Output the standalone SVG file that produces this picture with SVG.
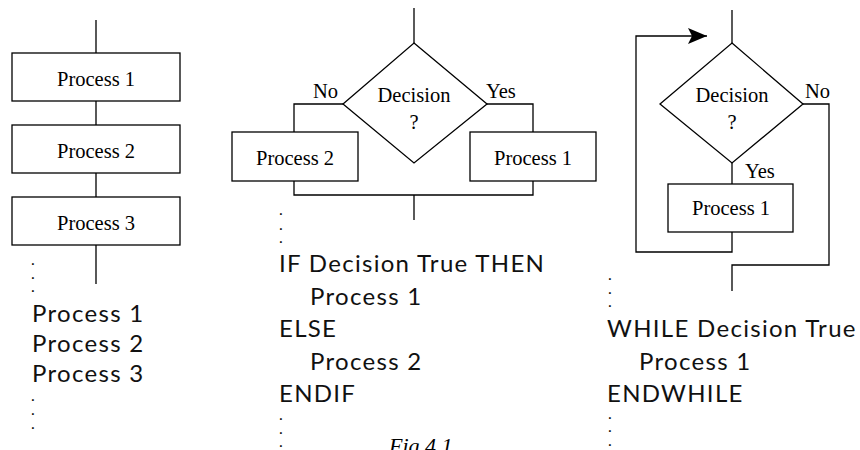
<svg xmlns="http://www.w3.org/2000/svg" width="860" height="450" viewBox="0 0 860 450">
  <style>
    .box { fill: #fff; stroke: #000; stroke-width: 1.3; }
    .wire { fill: none; stroke: #000; stroke-width: 1.3; }
    .lbl { font-family: "Liberation Serif", "Times New Roman", serif; font-size: 20.5px; fill: #000; }
    .mid { text-anchor: middle; }
    .code { font-family: "Lato", "Noto Sans", sans-serif; font-size: 24px; letter-spacing: 1.3px; fill: #111; }
    .dot { font-family: "Lato", "Noto Sans", sans-serif; font-size: 16px; fill: #111; }
    .cap { font-family: "Liberation Serif", "Times New Roman", serif; font-size: 22px; font-style: italic; fill: #000; }
  </style>
  <defs>
    <marker id="arrow" markerWidth="20" markerHeight="16" refX="19" refY="8" markerUnits="userSpaceOnUse" orient="auto">
      <path d="M0,0 L19,8 L0,16 L4,8 Z" fill="#000"/>
    </marker>
  </defs>
  <rect width="860" height="450" fill="#fff"/>

  <!-- connectors -->
  <g id="connectors">
    <!-- sequence -->
    <path class="wire" d="M96,20 V53 M96,101 V125 M96,173 V197 M96,245 V284"/>
    <!-- selection -->
    <path class="wire" d="M414,8 V43"/>
    <path class="wire" d="M343,104 H294 V132"/>
    <path class="wire" d="M487,104 H533 V132"/>
    <path class="wire" d="M294,181 V195 H533 V181"/>
    <path class="wire" d="M414,195 V220"/>
    <!-- iteration -->
    <path class="wire" d="M732,10 V43"/>
    <path class="wire" d="M732,163 V184"/>
    <path class="wire" d="M732,232 V252 H636 V36 H707" marker-end="url(#arrow)"/>
    <path class="wire" d="M803,104 H829 V265 H732 V291"/>
  </g>

  <!-- sequence nodes -->
  <g id="seq-p1">
    <rect class="box" x="12" y="53" width="168" height="48"/>
    <text class="lbl mid" x="96" y="86">Process 1</text>
  </g>
  <g id="seq-p2">
    <rect class="box" x="12" y="125" width="168" height="48"/>
    <text class="lbl mid" x="96" y="158">Process 2</text>
  </g>
  <g id="seq-p3">
    <rect class="box" x="12" y="197" width="168" height="48"/>
    <text class="lbl mid" x="96" y="230">Process 3</text>
  </g>

  <!-- selection nodes -->
  <g id="if-decision">
    <polygon class="box" points="414,43 487,104 414,163 343,104"/>
    <text class="lbl mid" x="414" y="102">Decision</text>
    <text class="lbl mid" x="414" y="129">?</text>
  </g>
  <g id="if-no-label"><text class="lbl" x="313" y="98">No</text></g>
  <g id="if-yes-label"><text class="lbl" x="486" y="98">Yes</text></g>
  <g id="if-p2">
    <rect class="box" x="232" y="132" width="126" height="49"/>
    <text class="lbl mid" x="295" y="165">Process 2</text>
  </g>
  <g id="if-p1">
    <rect class="box" x="470" y="132" width="126" height="49"/>
    <text class="lbl mid" x="533" y="165">Process 1</text>
  </g>

  <!-- iteration nodes -->
  <g id="while-decision">
    <polygon class="box" points="732,43 803,104 732,163 660,104"/>
    <text class="lbl mid" x="732" y="102">Decision</text>
    <text class="lbl mid" x="732" y="129">?</text>
  </g>
  <g id="while-no-label"><text class="lbl" x="805" y="98">No</text></g>
  <g id="while-yes-label"><text class="lbl" x="745" y="178">Yes</text></g>
  <g id="while-p1">
    <rect class="box" x="668" y="184" width="125" height="48"/>
    <text class="lbl mid" x="731" y="215">Process 1</text>
  </g>

  <!-- pseudocode: sequence -->
  <g id="seq-code">
    <text class="dot"><tspan x="31" y="265">.</tspan><tspan x="31" dy="14">.</tspan><tspan x="31" dy="13">.</tspan></text>
    <text class="code" x="32" y="322">Process 1</text>
    <text class="code" x="32" y="352">Process 2</text>
    <text class="code" x="32" y="382">Process 3</text>
    <text class="dot"><tspan x="31" y="401">.</tspan><tspan x="31" dy="14">.</tspan><tspan x="31" dy="14">.</tspan></text>
  </g>

  <!-- pseudocode: selection -->
  <g id="if-code">
    <text class="dot"><tspan x="279" y="215">.</tspan><tspan x="279" dy="15">.</tspan><tspan x="279" dy="13">.</tspan></text>
    <text class="code" x="279" y="272">IF Decision True THEN</text>
    <text class="code" x="310" y="305">Process 1</text>
    <text class="code" x="279" y="337">ELSE</text>
    <text class="code" x="310" y="370">Process 2</text>
    <text class="code" x="279" y="402">ENDIF</text>
    <text class="dot"><tspan x="279" y="420">.</tspan><tspan x="279" dy="14">.</tspan><tspan x="279" dy="13">.</tspan></text>
  </g>

  <!-- pseudocode: iteration -->
  <g id="while-code">
    <text class="dot"><tspan x="608" y="280">.</tspan><tspan x="608" dy="14">.</tspan><tspan x="608" dy="13">.</tspan></text>
    <text class="code" x="607" y="337">WHILE Decision True</text>
    <text class="code" x="639" y="370">Process 1</text>
    <text class="code" x="607" y="402">ENDWHILE</text>
    <text class="dot"><tspan x="608" y="419">.</tspan><tspan x="608" dy="13">.</tspan><tspan x="608" dy="14">.</tspan></text>
  </g>

  <!-- caption -->
  <g id="caption">
    <text class="cap" x="389" y="453">Fig 4.1</text>
  </g>
</svg>
